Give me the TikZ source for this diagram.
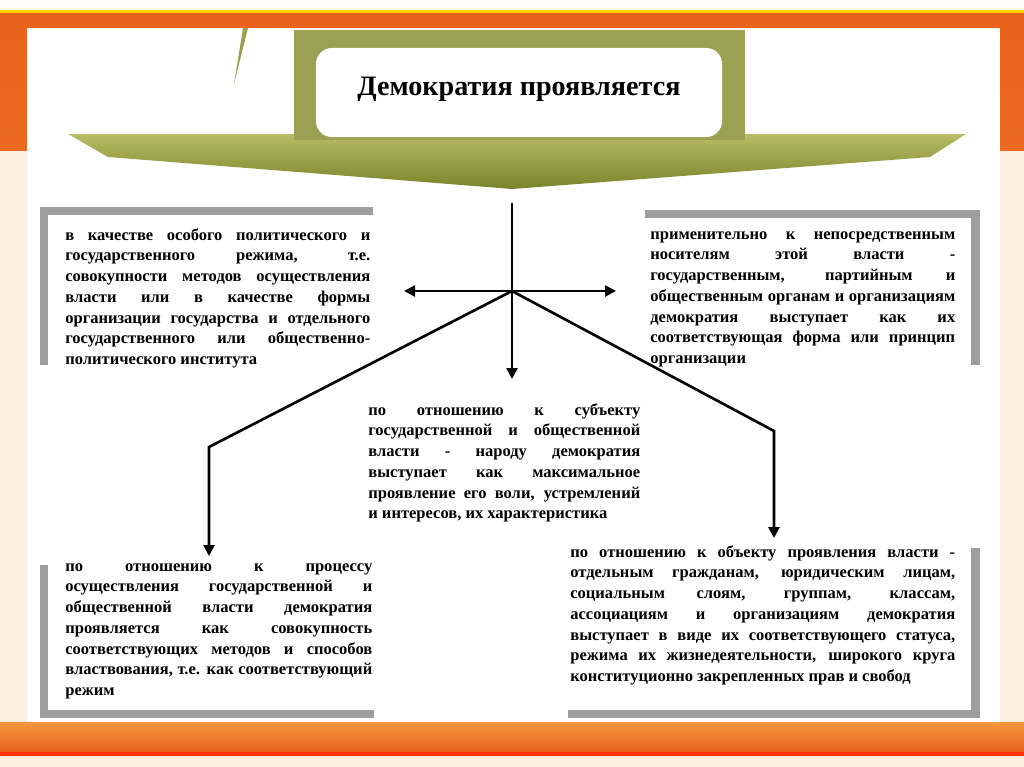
\documentclass[tikz,border=0pt]{standalone}
\usepackage{fontspec}
\setmainfont{Liberation Serif}
\usetikzlibrary{arrows.meta}

\definecolor{orangebg}{RGB}{233,98,28}
\definecolor{orangelt}{RGB}{244,150,60}
\definecolor{peachbg}{RGB}{251,238,224}
\definecolor{olivetop}{RGB}{156,160,82}
\definecolor{olivelt}{RGB}{184,188,100}
\definecolor{olivedk}{RGB}{120,132,42}
\definecolor{framegray}{RGB}{158,158,158}

\newcommand\boxspacing{\spaceskip=0.25em plus 2em minus 0.14em\relax}

\begin{document}
\begin{tikzpicture}[x=0.02cm,y=-0.02cm,
  txtbox/.style={anchor=north west,inner sep=0pt,align=justify,
    font=\fontsize{9.4}{11.8}\selectfont\bfseries\boxspacing},
  bar/.style={fill=framegray},
  arr/.style={-{Triangle[length=0.22cm,width=0.22cm]},line width=1.5pt,line join=miter},
  arrboth/.style={{Triangle[length=0.22cm,width=0.22cm]}-{Triangle[length=0.22cm,width=0.22cm]},line width=1.5pt}]

\useasboundingbox (0,0) rectangle (1024,767);

%=== Фон ===
\fill[peachbg] (0,0) rectangle (1024,767);
\fill[white!85!peachbg] (0,0) rectangle (1024,10);
\fill[yellow!70!orange] (0,10) rectangle (1024,14);
\shade[top color=orangebg,bottom color=orangebg!85!orangelt] (0,14) rectangle (1024,150);
\shade[top color=orangelt,bottom color=orangebg] (0,722) rectangle (1024,752);
\fill[red!60!orange] (0,752) rectangle (1024,756);
\fill[white] (27,28) rectangle (1000,722);
\fill[olivetop] (243,28) -- (248,28) -- (234,84) -- cycle;

%=== Заголовок со стрелкой ===
\shade[top color=olivelt,bottom color=olivedk]
  (68,134) -- (966,134) -- (930,157) -- (512,189) -- (108,157) -- cycle;
\fill[olivetop] (294,30) rectangle (745,140);
\fill[white,rounded corners=9] (316,48) rectangle (722,137);
\node[font=\fontsize{16}{18}\bfseries] (title) at (519,89) {Демократия проявляется};

%=== Серые рамки ===
\fill[bar] (40,207) rectangle (373,215);
\fill[bar] (40,207) rectangle (48,365);
\fill[bar] (645,210) rectangle (980,218);
\fill[bar] (971,210) rectangle (980,365);
\fill[bar] (40,565) rectangle (48,718);
\fill[bar] (40,710) rectangle (374,718);
\fill[bar] (971,548) rectangle (980,718);
\fill[bar] (568,710) rectangle (980,718);

%=== Тексты ===
\node[txtbox,text width=6.1cm] (regime) at (65,228)
  {в качестве особого политического и\linebreak
   государственного режима, т.е.\linebreak
   совокупности методов осуществления\linebreak
   власти или в качестве формы\linebreak
   организации государства и отдельного\linebreak
   государственного или общественно-\linebreak
   политического института};

\node[txtbox,text width=6.1cm] (bearers) at (650,231)
  {применительно к непосредственным\linebreak
   носителям этой власти -\linebreak
   государственным, партийным и\linebreak
   общественным органам и организациям\linebreak
   демократия выступает как их\linebreak
   соответствующая форма или принцип\linebreak
   организации};

\node[txtbox,text width=5.44cm] (subject) at (368,403)
  {по отношению к субъекту\linebreak
   государственной и общественной\linebreak
   власти - народу демократия\linebreak
   выступает как максимальное\linebreak
   проявление его воли, устремлений\linebreak
   и интересов, их характеристика};

\node[txtbox,text width=6.14cm] (process) at (65,563)
  {по отношению к процессу\linebreak
   осуществления государственной и\linebreak
   общественной власти демократия\linebreak
   проявляется как совокупность\linebreak
   соответствующих методов и способов\linebreak
   властвования, т.е. как соответствующий\linebreak
   режим};

\node[txtbox,text width=7.7cm] (object) at (570,545)
  {по отношению к объекту проявления власти -\linebreak
   отдельным гражданам, юридическим лицам,\linebreak
   социальным слоям, группам, классам,\linebreak
   ассоциациям и организациям демократия\linebreak
   выступает в виде их соответствующего статуса,\linebreak
   режима их жизнедеятельности, широкого круга\linebreak
   конституционно закрепленных прав и свобод};

%=== Стрелки ===
\coordinate (stem) at (512,203);
\coordinate (hub) at (512,291);
\coordinate (down) at (512,379);
\coordinate (west) at (404,291);
\coordinate (east) at (616,291);
\coordinate (lbend) at (209,447);
\coordinate (ltip) at (209,556);
\coordinate (rbend) at (774,431);
\coordinate (rtip) at (774,538);

\draw[arr] (stem) -- (down);
\draw[arrboth] (west) -- (east);
\draw[arr] (hub) -- (lbend) -- (ltip);
\draw[arr] (hub) -- (rbend) -- (rtip);

\end{tikzpicture}
\end{document}
